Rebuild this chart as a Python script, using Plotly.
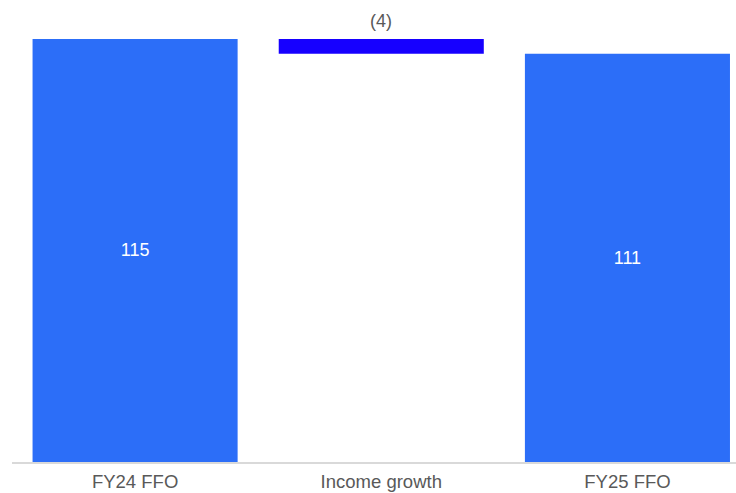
import plotly.graph_objects as go

# FFO bridge, FY24 -> FY25
categories = ["FY24 FFO", "Income growth", "FY25 FFO"]
opening = 115
movements = [-4]
closing = opening + sum(movements)

total_color = "#2C6EF8"
decrease_color = "#1600FF"
label_grey = "#595959"
font_family = "Liberation Sans, Arial, sans-serif"

# bar heights and bases for the bridge
heights = [opening] + [abs(m) for m in movements] + [closing]
bases = [0]
running = opening
for m in movements:
    running += m
    bases.append(min(running, running - m))
bases.append(0)

labels = [str(opening)] + [f"({abs(m)})" if m < 0 else str(m) for m in movements] + [str(closing)]
colors = [total_color] + [decrease_color] * len(movements) + [total_color]
inside_text = [labels[0]] + [""] * len(movements) + [labels[-1]]

fig = go.Figure(
    go.Bar(
        x=categories,
        y=heights,
        base=bases,
        marker=dict(color=colors, line=dict(width=0)),
        width=0.833,
        text=inside_text,
        textposition="inside",
        insidetextanchor="middle",
        textfont=dict(family=font_family, size=18, color="white"),
        hoverinfo="skip",
    )
)

# movement labels sit above their bars
for i, m in enumerate(movements, start=1):
    fig.add_annotation(
        x=categories[i],
        y=bases[i] + heights[i],
        text=labels[i],
        showarrow=False,
        yanchor="bottom",
        yshift=6,
        font=dict(family=font_family, size=18, color=label_grey),
    )

fig.update_layout(
    width=736,
    height=493,
    margin=dict(l=12, r=0, t=0, b=31),
    plot_bgcolor="white",
    paper_bgcolor="white",
    showlegend=False,
    font=dict(family=font_family, size=18, color=label_grey),
    xaxis=dict(
        range=[-0.5, 2.441],
        showgrid=False,
        showline=True,
        linecolor="#D9D9D9",
        linewidth=2,
        ticks="",
        ticklabelstandoff=2,
        automargin=False,
        tickfont=dict(family=font_family, size=18.5, color=label_grey),
        fixedrange=True,
    ),
    yaxis=dict(
        range=[0, 125.6],
        visible=False,
        automargin=False,
        fixedrange=True,
    ),
)

fig.write_html("out.html")
